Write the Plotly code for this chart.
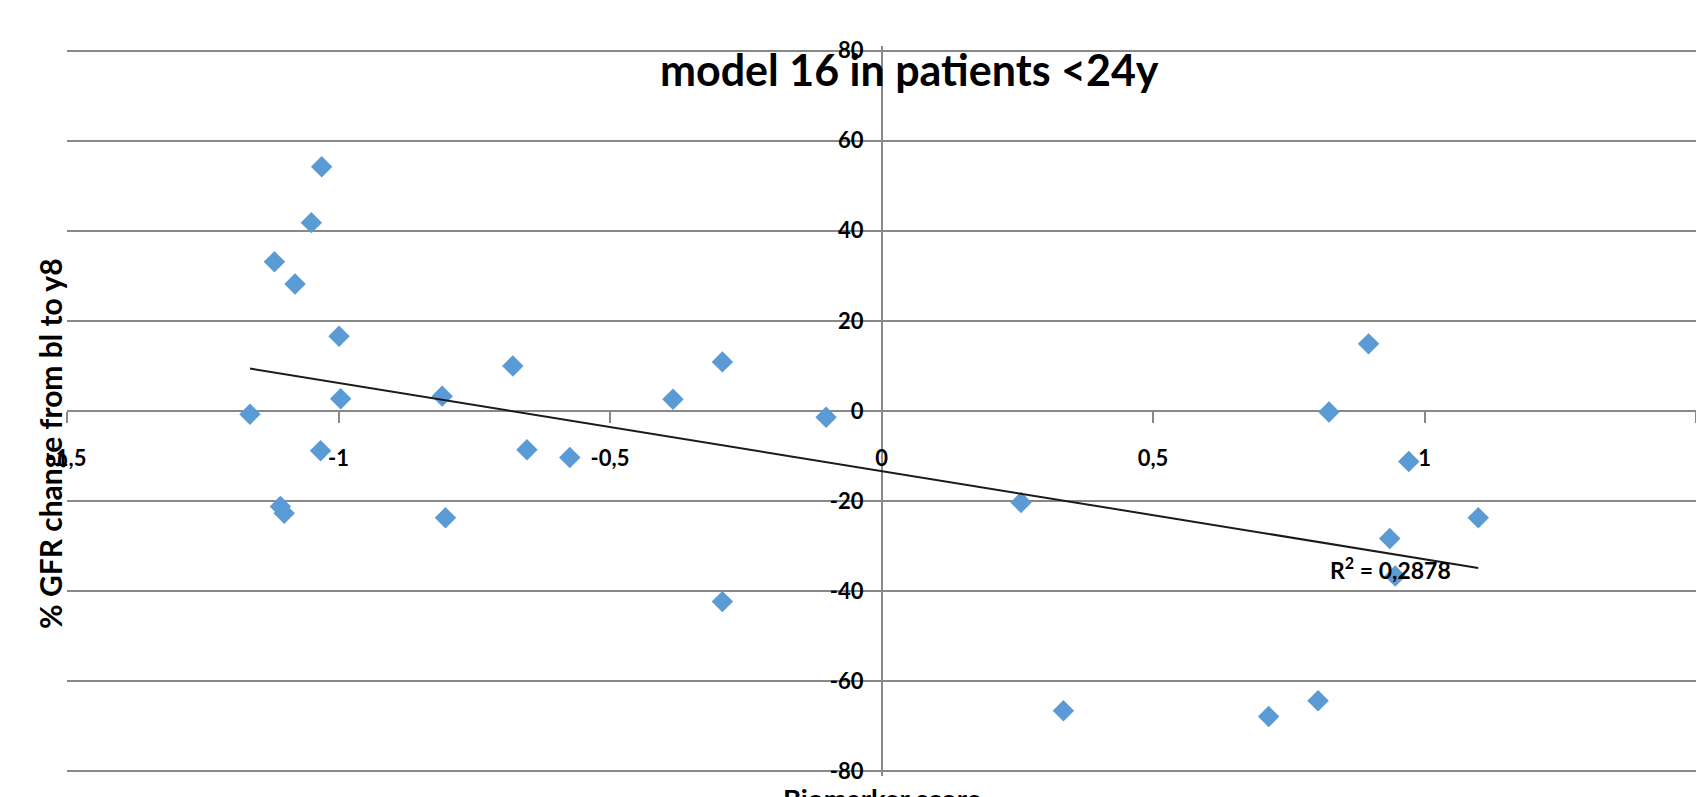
import numpy as np
import plotly.graph_objects as go

# Biomarker score vs. % GFR change (baseline to year 8), patients <24y
biomarker_score = [
    -1.031, -1.050, -1.118, -1.080, -0.999, -0.996, -1.163, -1.033, -1.107, -1.100,
    -0.809, -0.803, -0.679, -0.653, -0.574, -0.384, -0.293, -0.293, -0.102, 0.257,
    0.335, 0.713, 0.804, 0.824, 0.897, 0.971, 0.936, 0.946, 1.099,
]
gfr_change = [
    54.2, 41.8, 33.1, 28.2, 16.6, 2.7, -0.7, -8.8, -21.2, -22.7,
    3.3, -23.7, 10.0, -8.6, -10.3, 2.6, 10.9, -42.3, -1.4, -20.3,
    -66.5, -67.8, -64.3, -0.2, 14.9, -11.2, -28.3, -36.6, -23.7,
]

x_tick_vals = [-1.5, -1, -0.5, 0, 0.5, 1, 1.5]
x_tick_text = ["-1,5", "-1", "-0,5", "0", "0,5", "1", "1,5"]
y_tick_vals = [-80, -60, -40, -20, 0, 20, 40, 60, 80]
y_tick_text = ["-80", "-60", "-40", "-20", "0", "20", "40", "60", "80"]

title_text = "model 16 in patients <24y"
x_title = "Biomarker score"
y_title = "% GFR change from bl to y8"
r2_text = "R<sup>2</sup> = 0,2878"

W, H = 1696, 797
M_L, M_R, M_T, M_B = 67, 0, 46, 21
FONT = "Lato, 'Open Sans', Arial, sans-serif"
GRID = "#888888"

# linear least-squares trendline spanning the data range
slope, intercept = np.polyfit(biomarker_score, gfr_change, 1)
trend_x = np.array([min(biomarker_score), max(biomarker_score)])
trend_y = slope * trend_x + intercept

fig = go.Figure()
fig.add_trace(go.Scatter(
    x=biomarker_score, y=gfr_change, mode="markers",
    marker=dict(symbol="diamond", size=16.5, color="#5B9BD5", line=dict(width=0)),
    showlegend=False, hoverinfo="x+y",
))
fig.add_trace(go.Scatter(
    x=trend_x, y=trend_y, mode="lines",
    line=dict(color="#1a1a1a", width=2),
    showlegend=False, hoverinfo="skip",
))

pw = W - M_L - M_R
ph = H - M_T - M_B


def px_to_paper(px, py):
    return (px - M_L) / pw, (H - M_B - py) / ph


tx, ty = px_to_paper(909, 69)
yx, yy = px_to_paper(50, 444)
xx, xy = px_to_paper(882, 780)

fig.update_layout(
    width=W, height=H,
    margin=dict(l=M_L, r=M_R, t=M_T, b=M_B, autoexpand=False),
    paper_bgcolor="white", plot_bgcolor="white",
    font=dict(family=FONT, color="black"),
    xaxis=dict(
        range=[-1.5, 1.5], anchor="free", position=0.5,
        tickvals=x_tick_vals, ticktext=x_tick_text,
        showgrid=False, zeroline=True, zerolinecolor=GRID, zerolinewidth=2,
        showline=False, ticks="outside", ticklen=11, tickwidth=2, tickcolor=GRID,
        ticklabelstandoff=17,
        tickfont=dict(family=FONT, size=22, color="black", weight="bold"),
        automargin=False,
    ),
    yaxis=dict(
        range=[-81, 81], anchor="free", position=0.5,
        tickvals=y_tick_vals, ticktext=y_tick_text,
        showgrid=True, gridcolor=GRID, gridwidth=2,
        zeroline=True, zerolinecolor=GRID, zerolinewidth=2,
        showline=False, ticks="", ticklabelstandoff=18,
        tickfont=dict(family=FONT, size=22, color="black", weight="bold"),
        automargin=False,
    ),
    annotations=[
        dict(text=title_text, x=tx, y=ty, xref="paper", yref="paper",
             xanchor="center", yanchor="middle", showarrow=False,
             font=dict(family=FONT, size=43, color="black", weight="bold")),
        dict(text=y_title, x=yx, y=yy, xref="paper", yref="paper",
             xanchor="center", yanchor="middle", textangle=-90, showarrow=False,
             font=dict(family=FONT, size=30, color="black", weight="bold")),
        dict(text=x_title, x=xx, y=xy, xref="paper", yref="paper",
             xanchor="center", yanchor="top", showarrow=False,
             font=dict(family=FONT, size=27.5, color="black", weight="bold")),
        dict(text=r2_text, x=0.938, y=-35.0, xref="x", yref="y",
             xanchor="center", yanchor="middle", showarrow=False,
             font=dict(family=FONT, size=23, color="black", weight="bold")),
    ],
)

fig.write_html("out.html")
